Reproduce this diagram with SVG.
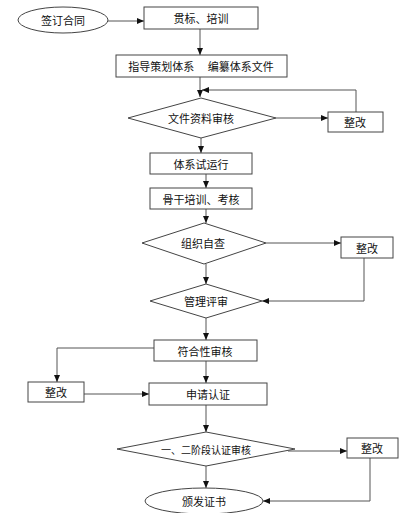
<svg xmlns="http://www.w3.org/2000/svg" width="408" height="513" viewBox="0 0 408 513">
<style>
.s{fill:#fff;stroke:#444;stroke-width:1}
.c{fill:none;stroke:#555;stroke-width:1}
text{font-family:"Noto Sans CJK SC","Noto Sans",sans-serif;font-size:11px;fill:#111;text-anchor:middle;dominant-baseline:central}
</style>
<defs>
<marker id="a" markerUnits="userSpaceOnUse" markerWidth="7" markerHeight="6" refX="7" refY="3" orient="auto"><path d="M0,0 L7,3 L0,6 Z" fill="#111"/></marker>
</defs>
<rect width="408" height="513" fill="#fff"/>
<g id="connectors">
<path class="c" d="M108,21 H144" marker-end="url(#a)"/>
<path class="c" d="M200,29 V55" marker-end="url(#a)"/>
<path class="c" d="M200,77 V97" marker-end="url(#a)"/>
<path class="c" d="M356,112 V90 H202" marker-end="url(#a)"/>
<path class="c" d="M276,118 H328" marker-end="url(#a)"/>
<path class="c" d="M201,138 V153" marker-end="url(#a)"/>
<path class="c" d="M206,174 V188" marker-end="url(#a)"/>
<path class="c" d="M206,209 V223" marker-end="url(#a)"/>
<path class="c" d="M266,243 H341" marker-end="url(#a)"/>
<path class="c" d="M364,258 V301 H262" marker-end="url(#a)"/>
<path class="c" d="M206,264 V284" marker-end="url(#a)"/>
<path class="c" d="M206,318 V340" marker-end="url(#a)"/>
<path class="c" d="M154,348 H57 V382" marker-end="url(#a)"/>
<path class="c" d="M84,394 H149" marker-end="url(#a)"/>
<path class="c" d="M206,361 V383" marker-end="url(#a)"/>
<path class="c" d="M206,405 V432" marker-end="url(#a)"/>
<path class="c" d="M288,451 H347" marker-end="url(#a)"/>
<path class="c" d="M370,458 V501 H263" marker-end="url(#a)"/>
<path class="c" d="M206,466 V488" marker-end="url(#a)"/>
</g>
<g id="n1"><ellipse class="s" cx="63" cy="20" rx="45" ry="13"/><text x="63" y="20">签订合同</text></g>
<g id="n2"><rect class="s" x="144" y="7" width="114" height="22"/><text x="201" y="18">贯标、培训</text></g>
<g id="n3"><rect class="s" x="116" y="55" width="171" height="22"/><text x="201" y="66" xml:space="preserve">指导策划体系　 编纂体系文件</text></g>
<g id="n4"><polygon class="s" points="128,118 201,98 276,118 201,138"/><text x="201" y="118">文件资料审核</text></g>
<g id="n5"><rect class="s" x="328" y="112" width="55" height="20"/><text x="355" y="122">整改</text></g>
<g id="n6"><rect class="s" x="150" y="153" width="102" height="21"/><text x="201" y="163.5">体系试运行</text></g>
<g id="n7"><rect class="s" x="150" y="188" width="102" height="21"/><text x="201" y="198.5">骨干培训、考核</text></g>
<g id="n8"><polygon class="s" points="142,243 204,223 266,243 204,264"/><text x="203" y="243">组织自查</text></g>
<g id="n9"><rect class="s" x="341" y="237" width="52" height="21"/><text x="367" y="247.5">整改</text></g>
<g id="n10"><polygon class="s" points="150,301 206,284 262,301 206,318"/><text x="206" y="301">管理评审</text></g>
<g id="n11"><rect class="s" x="154" y="340" width="103" height="21"/><text x="205" y="350.5">符合性审核</text></g>
<g id="n12"><rect class="s" x="28" y="382" width="56" height="20"/><text x="56" y="392">整改</text></g>
<g id="n13"><rect class="s" x="149" y="383" width="118" height="22"/><text x="208" y="394">申请认证</text></g>
<g id="n14"><polygon class="s" points="117,449 206,432 295,449 206,466"/><text x="206" y="449" style="font-size:10px">一、二阶段认证审核</text></g>
<g id="n15"><rect class="s" x="347" y="438" width="51" height="20"/><text x="372" y="448">整改</text></g>
<g id="n16"><ellipse class="s" cx="204" cy="501" rx="59" ry="13"/><text x="204" y="501">颁发证书</text></g>
</svg>
